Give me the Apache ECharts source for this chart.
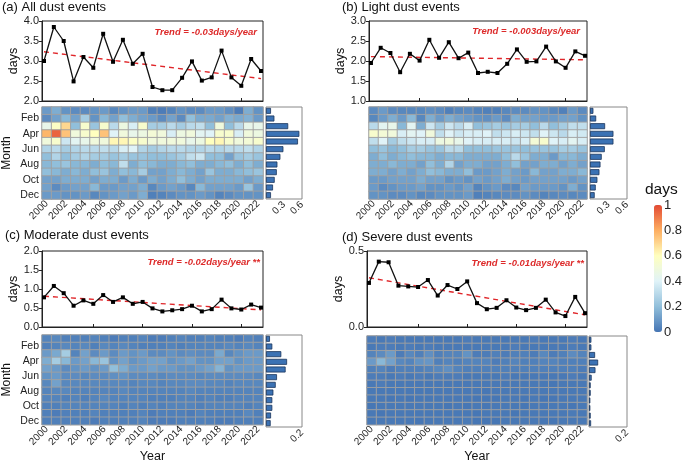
<!DOCTYPE html>
<html><head><meta charset="utf-8">
<script src="https://cdn.jsdelivr.net/npm/echarts@6/dist/echarts.min.js"></script>
<style>html,body{margin:0;padding:0;background:#fff}#c{width:685px;height:464px}</style>
</head><body><div id="c"></div>
<script>
const years = ['2000','2001','2002','2003','2004','2005','2006','2007','2008','2009','2010','2011','2012','2013','2014','2015','2016','2017','2018','2019','2020','2021','2022'];
const yearNums = years.map(Number);
const months = ['Jan','Feb','Mar','Apr','May','Jun','Jul','Aug','Sep','Oct','Nov','Dec'];
const colorbarTicks = [0, 0.2, 0.4, 0.6, 0.8, 1];

// annual days
const allLine = [3.0, 3.85, 3.5, 2.49, 3.1, 2.83, 3.68, 2.98, 3.53, 2.93, 3.18, 2.35, 2.27, 2.27, 2.58, 2.99, 2.51, 2.59, 3.26, 2.59, 2.38, 3.05, 2.75];
const lightLine = [1.95, 2.33, 2.2, 1.72, 2.18, 2.01, 2.53, 2.08, 2.47, 2.07, 2.21, 1.7, 1.73, 1.7, 1.93, 2.29, 1.98, 1.99, 2.36, 1.99, 1.83, 2.24, 2.13];
const moderateLine = [0.78, 1.08, 0.89, 0.56, 0.70, 0.61, 0.84, 0.66, 0.78, 0.61, 0.66, 0.49, 0.41, 0.44, 0.47, 0.56, 0.41, 0.47, 0.72, 0.49, 0.46, 0.59, 0.51];
const severeLine = [0.29, 0.43, 0.426, 0.272, 0.267, 0.263, 0.309, 0.207, 0.276, 0.25, 0.30, 0.157, 0.117, 0.126, 0.176, 0.128, 0.111, 0.126, 0.18, 0.096, 0.072, 0.198, 0.091];

// linear trend values at 2000 and 2022
const trendYears = [2000, 2022];
const allTrend = [3.23, 2.56];
const lightTrend = [2.11, 2.03];
const moderateTrend = [0.81, 0.45];
const severeTrend = [0.324, 0.08];

// monthly mean days
const allMonthly = [0.083, 0.14, 0.37, 0.556, 0.533, 0.29, 0.24, 0.19, 0.18, 0.145, 0.117, 0.083];
const lightMonthly = [0.055, 0.1, 0.245, 0.38, 0.38, 0.24, 0.19, 0.17, 0.153, 0.12, 0.093, 0.076];
const moderateMonthly = [0.022, 0.035, 0.085, 0.117, 0.109, 0.061, 0.054, 0.041, 0.035, 0.035, 0.028, 0.026];
const severeMonthly = [0.0125, 0.0125, 0.032, 0.048, 0.034, 0.014, 0.009, 0.009, 0.007, 0.007, 0.009, 0.011];

// month x year heat (rows Jan..Dec, columns 2000..2022)
const allHeat = [
 [0.10,0.15,0.08,0.06,0.06,0.08,0.10,0.05,0.08,0.10,0.10,0.03,0.02,0.04,0.08,0.06,0.06,0.10,0.10,0.07,0.02,0.15,0.08],
 [0.06,0.12,0.18,0.12,0.25,0.08,0.18,0.12,0.20,0.15,0.12,0.10,0.06,0.12,0.06,0.20,0.14,0.14,0.12,0.16,0.14,0.16,0.10],
 [0.45,0.58,0.70,0.20,0.55,0.22,0.55,0.30,0.48,0.38,0.55,0.25,0.25,0.30,0.25,0.30,0.32,0.20,0.50,0.20,0.30,0.45,0.45],
 [0.78,0.95,0.75,0.50,0.55,0.60,0.75,0.40,0.50,0.45,0.48,0.52,0.50,0.38,0.48,0.50,0.42,0.40,0.55,0.55,0.38,0.50,0.48],
 [0.50,0.55,0.35,0.42,0.45,0.50,0.50,0.62,0.62,0.58,0.55,0.50,0.50,0.50,0.50,0.45,0.48,0.60,0.62,0.55,0.50,0.52,0.55],
 [0.28,0.30,0.25,0.28,0.30,0.30,0.32,0.30,0.38,0.40,0.28,0.25,0.28,0.30,0.30,0.28,0.28,0.30,0.28,0.30,0.30,0.32,0.28],
 [0.20,0.28,0.20,0.25,0.28,0.25,0.25,0.22,0.25,0.22,0.22,0.20,0.20,0.22,0.25,0.32,0.35,0.20,0.20,0.12,0.22,0.25,0.22],
 [0.18,0.20,0.22,0.18,0.18,0.15,0.20,0.18,0.32,0.15,0.20,0.18,0.15,0.15,0.18,0.20,0.15,0.15,0.18,0.20,0.15,0.20,0.15],
 [0.20,0.18,0.15,0.18,0.15,0.20,0.22,0.15,0.20,0.18,0.25,0.12,0.12,0.15,0.18,0.15,0.12,0.22,0.15,0.15,0.18,0.20,0.22],
 [0.12,0.12,0.15,0.15,0.15,0.12,0.15,0.15,0.10,0.15,0.10,0.15,0.12,0.15,0.20,0.15,0.12,0.15,0.15,0.15,0.15,0.12,0.15],
 [0.12,0.06,0.10,0.12,0.12,0.18,0.10,0.10,0.12,0.12,0.15,0.05,0.10,0.12,0.10,0.05,0.18,0.12,0.12,0.12,0.10,0.22,0.10],
 [0.10,0.10,0.08,0.08,0.10,0.05,0.08,0.10,0.12,0.10,0.15,0.03,0.04,0.06,0.08,0.08,0.10,0.08,0.04,0.06,0.08,0.08,0.08]
];
const lightHeat = [
 [0.06,0.10,0.06,0.05,0.05,0.05,0.07,0.06,0.03,0.05,0.06,0.04,0.03,0.03,0.05,0.06,0.06,0.08,0.08,0.05,0.03,0.10,0.06],
 [0.05,0.10,0.15,0.10,0.18,0.05,0.15,0.10,0.15,0.12,0.10,0.08,0.07,0.10,0.06,0.15,0.12,0.12,0.10,0.10,0.12,0.12,0.08],
 [0.30,0.42,0.45,0.18,0.42,0.15,0.35,0.25,0.35,0.30,0.38,0.20,0.22,0.25,0.22,0.25,0.25,0.20,0.30,0.20,0.25,0.32,0.32],
 [0.55,0.52,0.50,0.38,0.42,0.40,0.50,0.32,0.40,0.35,0.38,0.38,0.40,0.32,0.35,0.38,0.35,0.32,0.40,0.35,0.30,0.38,0.36],
 [0.32,0.40,0.25,0.32,0.35,0.38,0.38,0.48,0.50,0.45,0.40,0.38,0.38,0.38,0.38,0.35,0.38,0.52,0.55,0.40,0.38,0.42,0.38],
 [0.20,0.22,0.18,0.20,0.25,0.25,0.22,0.22,0.30,0.30,0.20,0.20,0.20,0.22,0.22,0.22,0.20,0.22,0.22,0.22,0.25,0.25,0.22],
 [0.15,0.20,0.15,0.18,0.20,0.18,0.18,0.15,0.18,0.18,0.15,0.15,0.15,0.15,0.20,0.30,0.22,0.15,0.15,0.10,0.18,0.18,0.15],
 [0.15,0.15,0.18,0.15,0.15,0.12,0.20,0.15,0.28,0.12,0.15,0.15,0.12,0.12,0.15,0.20,0.12,0.12,0.15,0.15,0.12,0.15,0.12],
 [0.15,0.15,0.12,0.15,0.12,0.15,0.20,0.18,0.15,0.15,0.20,0.10,0.10,0.12,0.15,0.12,0.10,0.18,0.12,0.12,0.15,0.15,0.18],
 [0.10,0.10,0.12,0.12,0.12,0.15,0.12,0.12,0.08,0.10,0.08,0.12,0.10,0.12,0.15,0.12,0.10,0.12,0.12,0.12,0.12,0.10,0.12],
 [0.10,0.06,0.08,0.10,0.10,0.12,0.08,0.08,0.10,0.08,0.12,0.04,0.08,0.10,0.06,0.05,0.12,0.10,0.10,0.10,0.08,0.15,0.08],
 [0.08,0.08,0.06,0.06,0.08,0.05,0.06,0.08,0.08,0.08,0.10,0.03,0.04,0.05,0.06,0.06,0.08,0.06,0.04,0.05,0.06,0.05,0.06]
];
const moderateHeat = [
 [0.04,0.05,0.03,0.03,0.03,0.04,0.03,0.02,0.03,0.03,0.04,0.02,0.02,0.03,0.04,0.03,0.03,0.04,0.03,0.03,0.02,0.04,0.03],
 [0.03,0.04,0.05,0.04,0.05,0.03,0.05,0.04,0.05,0.04,0.03,0.03,0.03,0.04,0.03,0.04,0.04,0.04,0.04,0.05,0.04,0.05,0.04],
 [0.10,0.14,0.25,0.04,0.12,0.06,0.10,0.06,0.10,0.08,0.10,0.06,0.06,0.08,0.06,0.07,0.06,0.06,0.14,0.05,0.08,0.10,0.10],
 [0.15,0.25,0.18,0.10,0.12,0.18,0.22,0.08,0.12,0.08,0.10,0.12,0.12,0.08,0.10,0.12,0.08,0.08,0.12,0.12,0.08,0.10,0.10],
 [0.12,0.10,0.06,0.08,0.10,0.08,0.10,0.20,0.15,0.10,0.10,0.12,0.10,0.10,0.08,0.08,0.10,0.12,0.17,0.08,0.10,0.10,0.10],
 [0.08,0.10,0.06,0.06,0.05,0.06,0.06,0.07,0.08,0.06,0.06,0.06,0.05,0.06,0.06,0.06,0.05,0.06,0.06,0.06,0.06,0.06,0.05],
 [0.05,0.12,0.05,0.05,0.05,0.05,0.05,0.05,0.05,0.04,0.05,0.05,0.04,0.05,0.05,0.06,0.06,0.05,0.05,0.04,0.05,0.05,0.05],
 [0.04,0.05,0.05,0.04,0.04,0.04,0.04,0.04,0.05,0.04,0.04,0.04,0.04,0.04,0.04,0.05,0.04,0.04,0.04,0.04,0.04,0.04,0.04],
 [0.04,0.04,0.03,0.04,0.03,0.04,0.05,0.04,0.04,0.04,0.04,0.03,0.03,0.03,0.04,0.04,0.03,0.04,0.03,0.03,0.04,0.04,0.04],
 [0.03,0.03,0.04,0.04,0.04,0.04,0.04,0.04,0.03,0.04,0.03,0.04,0.03,0.04,0.04,0.04,0.03,0.04,0.04,0.04,0.04,0.03,0.04],
 [0.03,0.02,0.03,0.03,0.03,0.04,0.03,0.03,0.03,0.03,0.04,0.02,0.03,0.03,0.03,0.02,0.04,0.03,0.03,0.03,0.03,0.05,0.03],
 [0.03,0.03,0.03,0.03,0.03,0.02,0.03,0.03,0.03,0.03,0.04,0.02,0.02,0.02,0.03,0.03,0.03,0.03,0.02,0.02,0.03,0.03,0.03]
];
const severeHeat = [
 [0.02,0.01,0.02,0.01,0.01,0.01,0.01,0.01,0.01,0.01,0.02,0.01,0.01,0.01,0.01,0.01,0.01,0.02,0.01,0.01,0.01,0.02,0.01],
 [0.01,0.02,0.02,0.01,0.02,0.01,0.02,0.01,0.01,0.01,0.01,0.01,0.01,0.01,0.01,0.02,0.01,0.01,0.01,0.01,0.01,0.02,0.01],
 [0.04,0.06,0.10,0.02,0.05,0.03,0.07,0.03,0.04,0.04,0.08,0.02,0.02,0.03,0.02,0.03,0.03,0.02,0.05,0.02,0.03,0.06,0.04],
 [0.10,0.18,0.12,0.05,0.04,0.08,0.09,0.03,0.04,0.03,0.04,0.04,0.04,0.02,0.03,0.04,0.03,0.03,0.04,0.04,0.03,0.03,0.03],
 [0.03,0.04,0.02,0.03,0.03,0.03,0.04,0.05,0.07,0.04,0.03,0.03,0.03,0.03,0.03,0.03,0.03,0.03,0.03,0.03,0.03,0.03,0.02],
 [0.02,0.02,0.01,0.02,0.01,0.02,0.01,0.02,0.02,0.02,0.01,0.01,0.01,0.01,0.02,0.01,0.01,0.01,0.01,0.01,0.01,0.02,0.01],
 [0.01,0.02,0.01,0.01,0.01,0.01,0.01,0.01,0.01,0.01,0.01,0.01,0.01,0.01,0.01,0.01,0.01,0.01,0.01,0.005,0.01,0.01,0.01],
 [0.01,0.01,0.01,0.01,0.01,0.01,0.01,0.01,0.01,0.01,0.01,0.01,0.005,0.01,0.01,0.01,0.01,0.01,0.01,0.01,0.01,0.01,0.01],
 [0.01,0.01,0.005,0.01,0.005,0.01,0.01,0.01,0.01,0.01,0.01,0.005,0.005,0.005,0.01,0.01,0.005,0.01,0.005,0.005,0.01,0.01,0.01],
 [0.005,0.01,0.01,0.01,0.01,0.01,0.01,0.01,0.005,0.01,0.005,0.01,0.005,0.01,0.01,0.01,0.005,0.01,0.01,0.01,0.01,0.005,0.01],
 [0.01,0.005,0.01,0.01,0.01,0.01,0.01,0.01,0.01,0.01,0.01,0.005,0.01,0.01,0.01,0.005,0.01,0.01,0.01,0.01,0.01,0.015,0.01],
 [0.01,0.01,0.01,0.01,0.01,0.005,0.01,0.01,0.01,0.01,0.015,0.005,0.005,0.005,0.01,0.01,0.01,0.01,0.005,0.005,0.01,0.01,0.01]
];

const FONT = '"Liberation Sans", Arial, Helvetica, sans-serif';
const panels = [
  {title:'(a) All dust events', trendText:'Trend = -0.03days/year', line:allLine, trend:allTrend, heat:allHeat, monthly:allMonthly,
   yMin:2, yMax:4, yInt:0.5, barMax:0.6, barInt:0.3, showMonth:true, showYearName:false,
   L:{left:42, w:221, lineTop:21, lineH:80, heatTop:107, heatH:92, barLeft:266, barW:36, tLeft:2, tTop:1, trRight:428, trTop:27, nameGap:18}},
  {title:'(b) Light dust events', trendText:'Trend = -0.003days/year', line:lightLine, trend:lightTrend, heat:lightHeat, monthly:lightMonthly,
   yMin:1, yMax:3, yInt:0.5, barMax:0.6, barInt:0.3, showMonth:false, showYearName:false,
   L:{left:369, w:218, lineTop:21, lineH:80, heatTop:107, heatH:92, barLeft:590, barW:37, tLeft:342, tTop:1, trRight:105, trTop:26, nameGap:21}},
  {title:'(c) Moderate dust events', trendText:'Trend = -0.02days/year **', line:moderateLine, trend:moderateTrend, heat:moderateHeat, monthly:moderateMonthly,
   yMin:0, yMax:2, yInt:0.5, barMax:0.2, barInt:0.2, showMonth:true, showYearName:true,
   L:{left:42, w:221, lineTop:251, lineH:76, heatTop:335, heatH:92, barLeft:266, barW:36, tLeft:5, tTop:229, trRight:425, trTop:257, nameGap:19}},
  {title:'(d) Severe dust events', trendText:'Trend = -0.01days/year **', line:severeLine, trend:severeTrend, heat:severeHeat, monthly:severeMonthly,
   yMin:0, yMax:0.5, yInt:0.5, barMax:0.2, barInt:0.2, showMonth:false, showYearName:true,
   L:{left:367, w:220, lineTop:251, lineH:76, heatTop:336, heatH:91, barLeft:589, barW:38, tLeft:342, tTop:231, trRight:101, trTop:258, nameGap:19}}
];

const grid = [], xAxis = [], yAxis = [], series = [], title = [], heatIdx = [];
panels.forEach((p) => {
  const L = p.L;
  const g0 = grid.length;
  grid.push({left:L.left, top:L.lineTop, width:L.w, height:L.lineH, show:true, borderColor:'#222', borderWidth:1, backgroundColor:'transparent'});
  grid.push({left:L.left, top:L.heatTop, width:L.w, height:L.heatH, show:true, borderColor:'#aaa', borderWidth:1, backgroundColor:'transparent'});
  grid.push({left:L.barLeft, top:L.heatTop, width:L.barW, height:L.heatH, show:true, borderColor:'#888', borderWidth:1, backgroundColor:'transparent'});
  xAxis.push({gridIndex:g0, type:'value', min:1999.8, max:2022.2, axisLabel:{show:false}, splitLine:{show:false},
    axisLine:{lineStyle:{color:'#222'}}, axisTick:{show:true, inside:true, length:3, customValues:[2005,2010,2015,2020], lineStyle:{color:'#222'}}});
  yAxis.push({gridIndex:g0, type:'value', min:p.yMin, max:p.yMax, interval:p.yInt, name:'days', nameLocation:'middle', nameGap:L.nameGap,
    nameTextStyle:{fontSize:12.5, color:'#111', fontFamily:FONT}, splitLine:{show:false},
    axisLine:{show:true, lineStyle:{color:'#222'}}, axisTick:{show:true, length:3, lineStyle:{color:'#222'}},
    axisLabel:{fontSize:11, color:'#222', margin:3, fontFamily:FONT, formatter:(v)=>v.toFixed(1)}});
  xAxis.push({gridIndex:g0+1, type:'category', data:years, axisLine:{show:false}, axisTick:{show:false}, splitLine:{show:false},
    axisLabel:{interval:1, rotate:45, fontSize:10, color:'#222', margin:3, fontFamily:FONT},
    name:p.showYearName?'Year':'', nameLocation:'middle', nameGap:25, nameTextStyle:{fontSize:12.5, color:'#111', fontFamily:FONT}});
  yAxis.push({gridIndex:g0+1, type:'category', data:months, inverse:true, axisLine:{show:false}, axisTick:{show:false},
    axisLabel:{show:p.showMonth, interval:(i)=>i%2===1, fontSize:10.5, color:'#222', margin:3, fontFamily:FONT},
    name:p.showMonth?'Month':'', nameLocation:'middle', nameGap:29, nameTextStyle:{fontSize:12, color:'#111', fontFamily:FONT}});
  xAxis.push({gridIndex:g0+2, type:'value', min:0, max:p.barMax, interval:p.barInt, splitLine:{show:false},
    axisLine:{show:false}, axisTick:{show:false},
    axisLabel:{rotate:45, fontSize:10, color:'#222', margin:4, fontFamily:FONT, formatter:(v)=>v===0?'':String(v)}});
  yAxis.push({gridIndex:g0+2, type:'category', data:months, inverse:true, axisLine:{show:false}, axisTick:{show:false}, axisLabel:{show:false}});

  series.push({type:'line', xAxisIndex:g0, yAxisIndex:g0, data:trendYears.map((y,i)=>[y,p.trend[i]]), symbol:'none',
    lineStyle:{color:'#e0262a', width:1.4, type:[5,4]}, silent:true, z:2});
  series.push({type:'line', xAxisIndex:g0, yAxisIndex:g0, data:yearNums.map((y,i)=>[y,p.line[i]]), symbol:'rect', symbolSize:4,
    itemStyle:{color:'#000'}, lineStyle:{color:'#111', width:1.3}, z:3});
  const hd = [];
  p.heat.forEach((row,m)=>row.forEach((v,yi)=>hd.push([yi,m,v])));
  heatIdx.push(series.length);
  series.push({type:'heatmap', xAxisIndex:g0+1, yAxisIndex:g0+1, data:hd, itemStyle:{borderColor:'#a0a0a0', borderWidth:0.9}});
  series.push({type:'bar', xAxisIndex:g0+2, yAxisIndex:g0+2, data:p.monthly, barCategoryGap:'22%',
    itemStyle:{color:'#3b72b4', borderColor:'#1b355c', borderWidth:0.8}});

  title.push({text:p.title, left:L.tLeft, top:L.tTop, padding:0, textStyle:{fontSize:13, fontWeight:'normal', color:'#111', fontFamily:FONT}});
  title.push({text:p.trendText, right:L.trRight, top:L.trTop, padding:0,
    textStyle:{fontSize:9.5, fontWeight:'bold', fontStyle:'italic', color:'#dd2a2a', fontFamily:FONT}});
});

const gc = grid.length;
grid.push({left:654, top:205, width:8, height:127, show:false});
xAxis.push({gridIndex:gc, type:'value', show:false, min:0, max:1});
yAxis.push({gridIndex:gc, type:'value', min:0, max:1, interval:0.2, position:'right', splitLine:{show:false},
  axisLine:{show:false}, axisTick:{show:false}, axisLabel:{fontSize:13, color:'#222', margin:3, fontFamily:FONT,
  customValues:colorbarTicks}});
series.push({type:'scatter', xAxisIndex:gc, yAxisIndex:gc, data:[], silent:true});
title.push({text:'days', left:645, top:182, padding:0, textStyle:{fontSize:15.5, fontWeight:'normal', color:'#111', fontFamily:FONT}});

const chart = echarts.init(document.getElementById('c'), null, {renderer:'canvas'});
chart.setOption({
  animation:false,
  backgroundColor:'#fff',
  textStyle:{fontFamily:FONT},
  title, grid, xAxis, yAxis, series,
  visualMap:{type:'continuous', min:0, max:1, seriesIndex:heatIdx, calculable:false, orient:'vertical',
    left:654, top:205, itemWidth:8, itemHeight:127, padding:0, showLabel:false,
    inRange:{color:['#4575b4','#91bfdb','#e0f3f8','#ffffbf','#fdae61','#e34a33']}}
});
</script>
</body></html>
